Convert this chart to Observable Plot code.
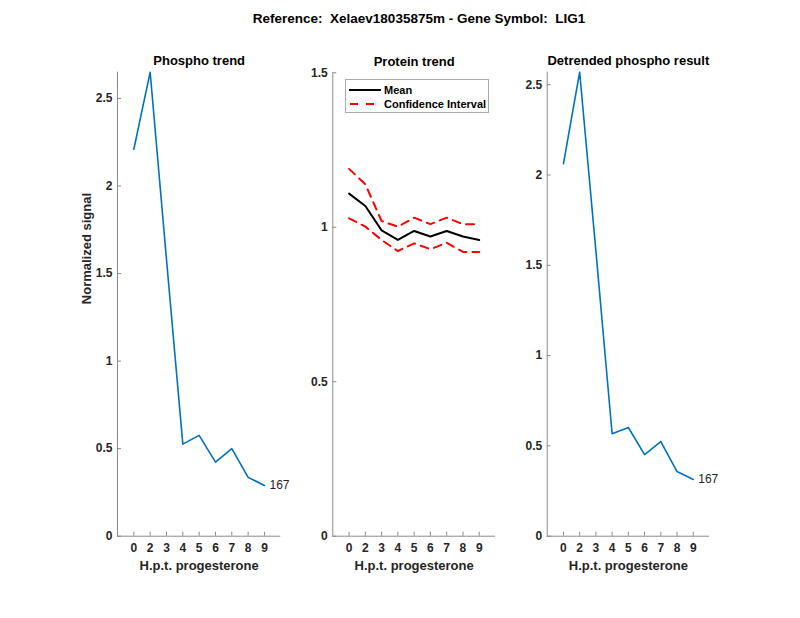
<!DOCTYPE html>
<html><head><meta charset="utf-8">
<script src="https://cdn.jsdelivr.net/npm/d3@7"></script>
<script src="https://cdn.jsdelivr.net/npm/@observablehq/plot@0.6"></script>
<style>
body{margin:0;background:#fff;}
#wrap{position:relative;width:800px;height:618px;font-family:"Liberation Sans",Arial,Helvetica,sans-serif;color:#262626;}
#wrap svg.plotsvg{position:absolute;left:0;top:0;}
#title{position:absolute;left:0;width:838px;top:11px;text-align:center;font-size:13.5px;font-weight:bold;color:#000;}
#legend{position:absolute;left:345px;top:79px;width:142px;height:32px;border:1px solid #aaa;background:#fff;z-index:5;font-size:11px;font-weight:bold;color:#000;}
#legend .row{position:absolute;left:3px;height:14px;display:flex;align-items:center;}
#legend .row span{margin-left:2px;}
</style></head><body>
<div id="wrap">
  <div id="title">Reference:&nbsp; Xelaev18035875m - Gene Symbol:&nbsp; LIG1</div>
</div>
<script>
// ---- data ----
const timeLabels = ["0","2","3","4","5","6","7","8","9"];
const phospho   = [2.21, 2.65, 1.58, 0.526, 0.576, 0.423, 0.50, 0.336, 0.29];
const protMean  = [1.109, 1.069, 0.990, 0.959, 0.988, 0.970, 0.988, 0.970, 0.959];
const protUpper = [1.189, 1.139, 1.020, 1.002, 1.031, 1.010, 1.031, 1.010, 1.010];
const protLower = [1.029, 1.002, 0.959, 0.923, 0.948, 0.929, 0.950, 0.920, 0.920];
const detrended = [2.062, 2.569, 1.58, 0.567, 0.602, 0.452, 0.524, 0.358, 0.314];
const yTicksPhospho = [0, 0.5, 1, 1.5, 2, 2.5];
const yTicksProtein = [0, 0.5, 1, 1.5];
const yTicksDetrend = [0, 0.5, 1, 1.5, 2, 2.5];
const seriesLabel = "167";
const panelTitles = ["Phospho trend", "Protein trend", "Detrended phospho result"];
const xAxisLabel = "H.p.t. progesterone";
const yAxisLabel = "Normalized signal";

const xPos = timeLabels.map((t, i) => i + 1);
const rows = (vals) => vals.map((v, i) => ({pos: xPos[i], label: timeLabels[i], value: v}));

const FONT = '"Liberation Sans", Arial, Helvetica, sans-serif';
const AXIS = "#8a8a8a", TEXT = "#262626";
const BLUE = "#0072BD";

function panel({frame, ymax, yTicks, title, marks, yLabel}) {
  const [L, R, T, B] = frame;
  const m = [
    Plot.ruleX([0], {stroke: AXIS}),
    Plot.ruleY([0], {stroke: AXIS}),
    Plot.axisX(xPos, {tickSize: -4, tickPadding: 11, tickFormat: d => timeLabels[d - 1],
      stroke: AXIS, fill: TEXT, fontSize: 12, fontWeight: "bold", label: null}),
    Plot.axisY(yTicks, {tickSize: -4, tickPadding: 9, tickFormat: d => String(d), stroke: AXIS, fill: TEXT,
      fontSize: 12, fontWeight: "bold", label: null}),
    ...marks,
    Plot.text([title], {frameAnchor: "top", dy: -16, fontSize: 13, fontWeight: "bold", fill: "#000"}),
    Plot.text([xAxisLabel], {frameAnchor: "bottom", dy: 34, fontSize: 13, fontWeight: "bold", fill: TEXT})
  ];
  if (yLabel) m.push(Plot.text([yLabel], {frameAnchor: "left", dx: -31, rotate: -90, fontSize: 13, fontWeight: "bold", fill: TEXT}));
  const svg = Plot.plot({
    width: 800, height: 618,
    marginLeft: L, marginRight: 800 - R, marginTop: T, marginBottom: 618 - B,
    style: {background: "transparent", fontFamily: FONT, overflow: "visible"},
    x: {domain: [0, 10], axis: null},
    y: {domain: [0, ymax], axis: null},
    marks: m
  });
  svg.classList.add("plotsvg");
  return svg;
}

const wrap = document.getElementById("wrap");
const pData = rows(phospho), mData = rows(protMean), uData = rows(protUpper), lData = rows(protLower), dData = rows(detrended);

wrap.appendChild(panel({
  frame: [117, 280.3, 71.7, 535.7], ymax: d3.max(phospho), yTicks: yTicksPhospho, title: panelTitles[0], yLabel: yAxisLabel,
  marks: [
    Plot.line(pData, {x: "pos", y: "value", stroke: BLUE, strokeWidth: 1.6}),
    Plot.text([pData[pData.length - 1]], {x: "pos", y: "value", text: () => seriesLabel, dx: 5, textAnchor: "start", fontSize: 12, fill: TEXT})
  ]
}));
wrap.appendChild(panel({
  frame: [332.3, 495, 72.3, 535.7], ymax: d3.max(yTicksProtein), yTicks: yTicksProtein, title: panelTitles[1],
  marks: [
    Plot.line(uData, {x: "pos", y: "value", stroke: "#ff0000", strokeWidth: 2, strokeDasharray: "8,6"}),
    Plot.line(lData, {x: "pos", y: "value", stroke: "#ff0000", strokeWidth: 2, strokeDasharray: "8,6"}),
    Plot.line(mData, {x: "pos", y: "value", stroke: "#000", strokeWidth: 2})
  ]
}));
wrap.appendChild(panel({
  frame: [546.7, 709, 71.7, 535.7], ymax: d3.max(detrended), yTicks: yTicksDetrend, title: panelTitles[2],
  marks: [
    Plot.line(dData, {x: "pos", y: "value", stroke: BLUE, strokeWidth: 1.6}),
    Plot.text([dData[dData.length - 1]], {x: "pos", y: "value", text: () => seriesLabel, dx: 5, textAnchor: "start", fontSize: 12, fill: TEXT})
  ]
}));

// legend
const leg = document.createElement("div");
leg.id = "legend";
leg.innerHTML = `
<div class="row" style="top:3px"><svg width="33" height="4"><line x1="0" y1="2" x2="32" y2="2" stroke="#000" stroke-width="2"/></svg><span>Mean</span></div>
<div class="row" style="top:17px"><svg width="33" height="4"><line x1="1" y1="2" x2="32" y2="2" stroke="#ff0000" stroke-width="2" stroke-dasharray="8,8"/></svg><span>Confidence Interval</span></div>`;
wrap.appendChild(leg);
</script>
</body></html>
